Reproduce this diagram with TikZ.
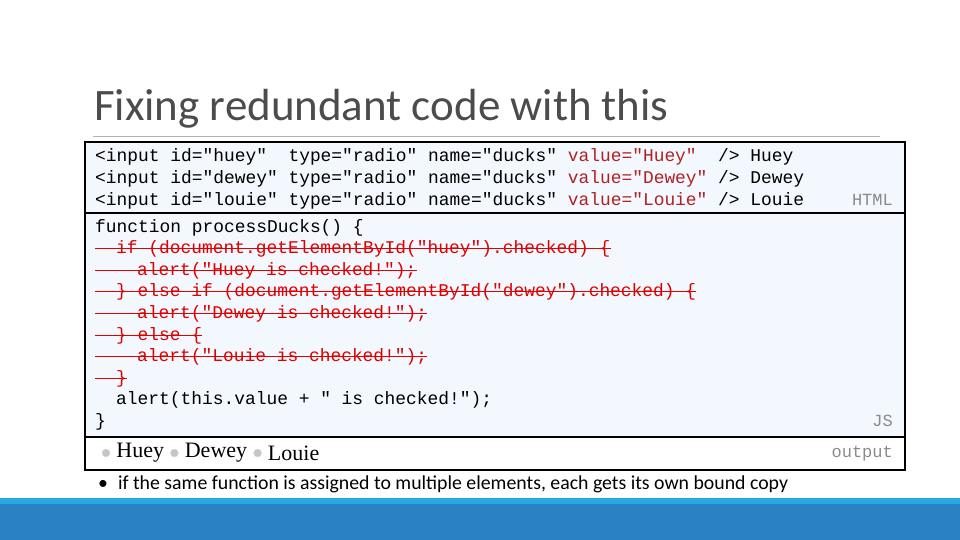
\documentclass[tikz,border=0pt]{standalone}
\usepackage{fontspec}
\setmainfont{Liberation Serif}
\setmonofont{Liberation Mono}
\newfontfamily\titlefont{Carlito}
\usetikzlibrary{positioning}
\definecolor{codebg}{HTML}{F2F8FE}
\definecolor{codered}{HTML}{B22222}
\definecolor{strikered}{HTML}{E00000}
\definecolor{barblue}{HTML}{2A82C4}
\definecolor{barcyan}{HTML}{27A9E0}
\definecolor{taggray}{HTML}{8A8A8A}
\tikzset{
  codeline/.style={anchor=base west, inner sep=0pt, font=\fontsize{17.9}{19}\ttfamily},
  deadline/.style={codeline, text=strikered},
  tag/.style={anchor=base east, inner sep=0pt, text=taggray, font=\fontsize{17}{19}\ttfamily},
  radio/.style={circle, fill=gray!45, draw=gray!30, minimum size=8pt, inner sep=0pt},
  duck/.style={anchor=base west, inner sep=0pt, font=\fontsize{22}{24}\selectfont}
}
\begin{document}
\begin{tikzpicture}[x=1pt, y=-1pt]
  \useasboundingbox (0,0) rectangle (960,540);
  % Title
  \node [anchor=base west, inner sep=0pt, font=\fontsize{45}{48}\titlefont, text=black!70] (title) at (94,121) {Fixing redundant code with this};
  \draw [gray!60, line width=0.8pt] (93,136) -- (880,136);

  % Boxes
  \fill [codebg] (85,142) rectangle (905,437);
  \draw [line width=2.5pt] (85,142) rectangle (905,470);
  \draw [line width=2pt] (85,213) -- (905,213);
  \draw [line width=2pt] (85,437) -- (905,437);

  % HTML
  \node [codeline] (h1) at (95,162) {<input id="huey"\ \ type="radio" name="ducks" \textcolor{codered}{value="Huey"}\ \ /> Huey};
  \node [codeline] (h2) at (95,183) {<input id="dewey" type="radio" name="ducks" \textcolor{codered}{value="Dewey"} /> Dewey};
  \node [codeline] (h3) at (95,205) {<input id="louie" type="radio" name="ducks" \textcolor{codered}{value="Louie"} /> Louie};
  \node [tag] (htmltag) at (893,205) {HTML};

  % JS
  \node [codeline] (j1) at (95,232) {function processDucks() \{};
  \node [deadline] (j2) at (116,253) {if (document.getElementById("huey").checked) \{};
  \node [deadline] (j3) at (137,275) {alert("Huey is checked!");};
  \node [deadline] (j4) at (116,296) {\} else if (document.getElementById("dewey").checked) \{};
  \node [deadline] (j5) at (137,318) {alert("Dewey is checked!");};
  \node [deadline] (j6) at (116,340) {\} else \{};
  \node [deadline] (j7) at (137,361) {alert("Louie is checked!");};
  \node [deadline] (j8) at (116,383) {\}};
  \node [codeline] (j9) at (116,404) {alert(this.value + " is checked!");};
  \node [codeline] (j10) at (95,426) {\}};
  \node [tag] (jstag) at (893,426) {JS};
  % strike-through
  \foreach \n in {2,...,8}
    \draw [strikered, line width=1pt] (95,0 |- j\n.center) -- (j\n.east);

  % Output
  \node [radio] (r1) at (106,453) {};
  \node [duck, right=6pt of r1.east, anchor=west] (huey) {Huey};
  \node [radio, right=6pt of huey] (r2) {};
  \node [duck, right=6pt of r2.east, anchor=west] (dewey) {Dewey};
  \node [radio, right=6pt of dewey] (r3) {};
  \node [duck, right=6pt of r3.east, anchor=west] (louie) {Louie};
  \node [tag] (outtag) at (893,457) {output};

  % Bullet
  \node [anchor=base west, inner sep=0pt, font=\fontsize{19.8}{22}\titlefont] (note) at (98,489) {\textbullet\hspace{10pt}if the same function is assigned to multiple elements, each gets its own bound copy};

  % Bottom bar
  \fill [barblue] (0,498) rectangle (960,540);
  \fill [barcyan] (0,498) rectangle (960,504);
\end{tikzpicture}
\end{document}
